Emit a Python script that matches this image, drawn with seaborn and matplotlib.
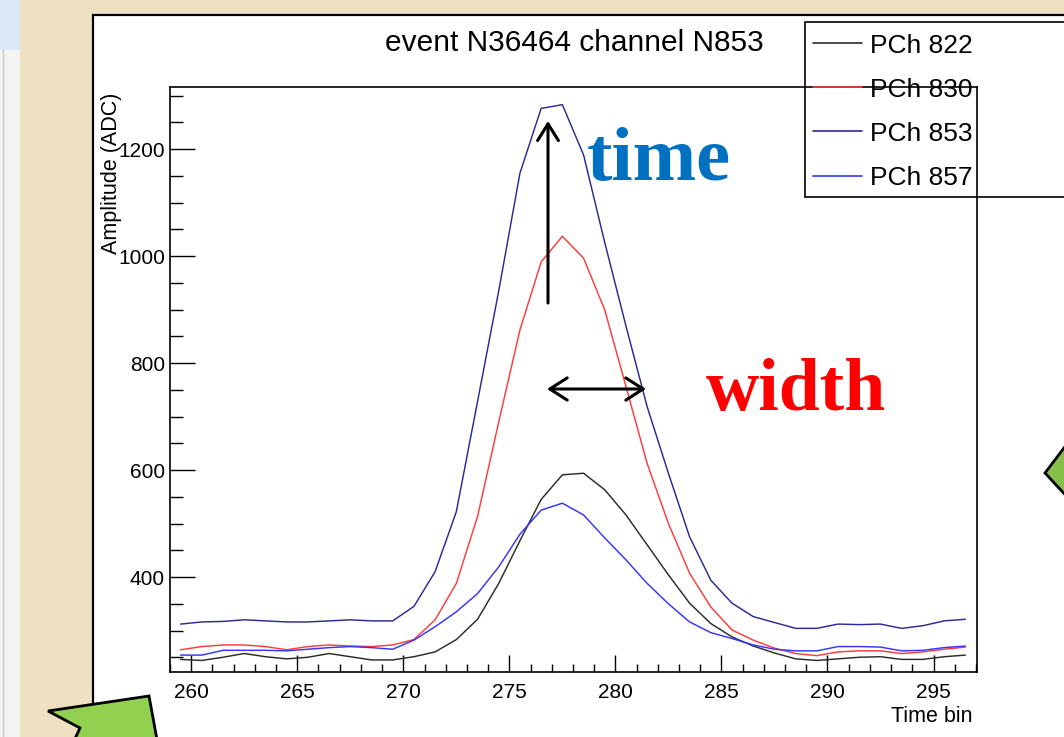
import numpy as np
import pandas as pd
import seaborn as sns
import matplotlib
matplotlib.use("Agg")
import matplotlib.pyplot as plt
from matplotlib.patches import Rectangle, Polygon
from matplotlib.lines import Line2D
from matplotlib.ticker import MultipleLocator

# ---- waveform data: ADC amplitude per time bin (bin lower edges) ----
time_bins = list(range(259, 297))

pch_822 = [246, 244, 250, 257, 251, 247, 250, 257, 251, 245, 245, 251, 260, 283,
           321, 388, 468, 545, 591, 594, 563, 516, 460, 404, 351, 313, 288, 271,
           258, 247, 244, 247, 250, 251, 246, 246, 251, 254]
pch_830 = [264, 270, 273, 273, 270, 264, 270, 273, 271, 270, 273, 283, 320, 388,
           513, 690, 862, 989, 1037, 996, 899, 756, 612, 500, 407, 344, 301, 282,
           267, 257, 253, 260, 262, 262, 257, 260, 265, 269]
pch_853 = [312, 316, 317, 320, 318, 316, 316, 318, 320, 318, 318, 345, 410, 522,
           728, 935, 1155, 1276, 1283, 1189, 1025, 869, 718, 594, 475, 394, 351,
           326, 315, 304, 304, 312, 311, 312, 304, 309, 318, 321]
pch_857 = [254, 254, 263, 263, 263, 262, 265, 268, 270, 268, 265, 282, 307, 335,
           369, 419, 480, 525, 538, 516, 473, 432, 388, 350, 316, 296, 285, 273,
           265, 262, 262, 270, 270, 269, 262, 263, 268, 271]

channel_labels = ["PCh 822", "PCh 830", "PCh 853", "PCh 857"]
channel_colors = ["#2b2b2b", "#ff3b3b", "#2a2a95", "#3535ff"]

title_text = "event N36464 channel N853"
x_title = "Time bin"
y_title = "Amplitude (ADC)"

# long-form table for seaborn (points drawn at bin centres)
frames = []
for lab, vals in zip(channel_labels, [pch_822, pch_830, pch_853, pch_857]):
    frames.append(pd.DataFrame({"bin": np.asarray(time_bins) + 0.5,
                                "amp": vals, "channel": lab}))
df = pd.concat(frames, ignore_index=True)

# ---- styling ----
sns.set_theme(style="white")
plt.rcParams["font.family"] = ["Liberation Sans", "DejaVu Sans"]
plt.rcParams.update({"text.color": "black", "axes.labelcolor": "black",
                     "xtick.color": "black", "ytick.color": "black"})

W, H = 1064, 737
fig = plt.figure(figsize=(W / 100, H / 100), dpi=100)
fig.patch.set_facecolor("#eee1c1")


def fx(px):
    return px / W


def fy(py):
    return 1 - py / H


def fxy(pts):
    return [(fx(a), fy(b)) for a, b in pts]


# slide side strip and white canvas
fig.add_artist(Rectangle((0, fy(50)), fx(20), 50 / H, transform=fig.transFigure,
                         facecolor="#dce9f6", edgecolor="none", zorder=-3))
fig.add_artist(Rectangle((0, 0), fx(20), fy(50), transform=fig.transFigure,
                         facecolor="#f4f4f4", edgecolor="none", zorder=-3))
fig.add_artist(Line2D([fx(3), fx(3)], [0, fy(50)], transform=fig.transFigure,
                      color="#c9c9c9", lw=1.0, zorder=-2))
fig.add_artist(Rectangle((fx(93), fy(745)), fx(1080) - fx(93), (745 - 15) / H,
                         transform=fig.transFigure, facecolor="white",
                         edgecolor="black", lw=1.6, zorder=-2))

# plot frame
x0, x1, y0, y1 = 170, 977, 87, 671.7
ax = fig.add_axes([fx(x0), fy(y1), fx(x1) - fx(x0), (y1 - y0) / H])
ax.set_facecolor("white")

sns.lineplot(data=df, x="bin", y="amp", hue="channel",
             palette=dict(zip(channel_labels, channel_colors)),
             linewidth=1.05, ax=ax, legend=True)

ax.set_xlim(259, 297.05)
ax.set_ylim(223, 1316)
ax.xaxis.set_major_locator(MultipleLocator(5))
ax.xaxis.set_minor_locator(MultipleLocator(1))
ax.yaxis.set_major_locator(MultipleLocator(200))
ax.yaxis.set_minor_locator(MultipleLocator(50))
ax.tick_params(axis="x", which="major", direction="in", length=12.2, width=1.0,
               bottom=True, top=False, labelsize=15, pad=8)
ax.tick_params(axis="x", which="minor", direction="in", length=5.8, width=1.0,
               bottom=True, top=False)
ax.tick_params(axis="y", which="major", direction="in", length=18, width=1.0,
               left=True, right=False, labelsize=15, pad=3.6)
ax.tick_params(axis="y", which="minor", direction="in", length=9.4, width=1.0,
               left=True, right=False)

for sp in ax.spines.values():
    sp.set_color("black")
    sp.set_linewidth(1.2)
    sp.set_visible(True)
    sp.set_zorder(6)

ax.set_xlabel(x_title, loc="right", fontsize=15.5)
ax.xaxis.set_label_coords(0.995, -0.059)
ax.set_ylabel(y_title, loc="top", fontsize=15.5)
ax.yaxis.set_label_coords(-0.06, 0.99)

# legend box (frame lines of the plot pass over it)
ax.add_patch(Rectangle((fx(805), fy(197)), fx(1080) - fx(805), (197 - 22) / H,
                       transform=fig.transFigure, clip_on=False,
                       facecolor="white", edgecolor="black", lw=1.2, zorder=5))
handles, labels = ax.get_legend_handles_labels()
for h in handles:
    h.set_linewidth(1.2)
leg = ax.legend(handles, labels, loc="upper left",
                bbox_to_anchor=(fx(801), fy(22)), bbox_transform=fig.transFigure,
                frameon=False, fontsize=19, handlelength=1.86,
                handletextpad=0.3, borderpad=0.44, borderaxespad=0,
                labelspacing=0.76)
leg.set_zorder(7)

# title
fig.text(fx(574), fy(43), title_text, ha="center", va="center", fontsize=21.5)

# annotations
arrow_kw = dict(arrowstyle="->,head_length=1.2,head_width=0.75",
                lw=2.2, color="black", mutation_scale=10, shrinkA=0, shrinkB=0)
ax.annotate("", xy=(fx(548), fy(121)), xytext=(fx(548), fy(303)),
            xycoords="figure fraction", textcoords="figure fraction",
            arrowprops=arrow_kw, zorder=8)
arrow_kw2 = dict(arrow_kw)
arrow_kw2["arrowstyle"] = "<->,head_length=1.25,head_width=0.8"
ax.annotate("", xy=(fx(646), fy(389)), xytext=(fx(547), fy(389)),
            xycoords="figure fraction", textcoords="figure fraction",
            arrowprops=arrow_kw2, zorder=8)

fig.text(fx(587), fy(180), "time", ha="left", va="baseline", fontsize=55,
         fontweight="bold", family=["Liberation Serif", "DejaVu Serif"],
         color="#0070c0")
fig.text(fx(706), fy(410), "width", ha="left", va="baseline", fontsize=53,
         fontweight="bold", family=["Liberation Serif", "DejaVu Serif"],
         color="#ff0000")

# green slide shapes
fig.add_artist(Polygon(fxy([(48, 711), (149, 696), (158, 745), (72, 745), (80, 728)]),
                       closed=True, transform=fig.transFigure, facecolor="#92d050",
                       edgecolor="black", lw=2.0, zorder=9))
fig.add_artist(Polygon(fxy([(1045, 473), (1070, 440), (1070, 500)]),
                       closed=True, transform=fig.transFigure, facecolor="#86c04a",
                       edgecolor="black", lw=2.0, zorder=9))

fig.savefig("out.png", dpi=100, facecolor=fig.get_facecolor())
